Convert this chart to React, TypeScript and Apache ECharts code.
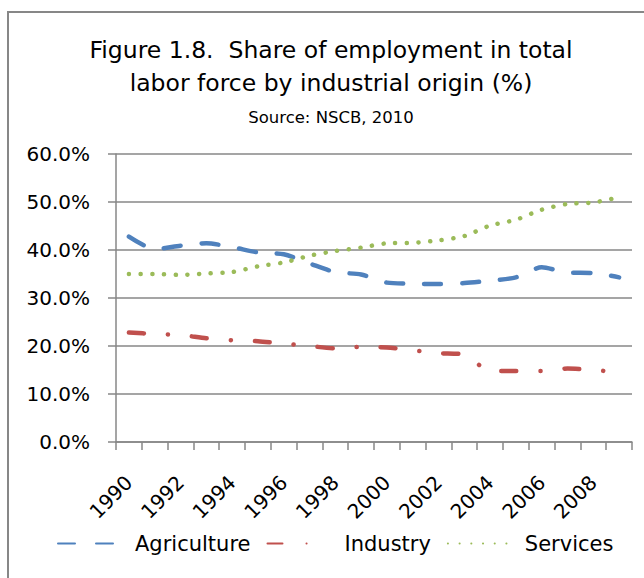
import React, { useEffect, useRef } from "react";
import * as echarts from "echarts";

const years = ["1990","1991","1992","1993","1994","1995","1996","1997","1998","1999","2000","2001","2002","2003","2004","2005","2006","2007","2008","2009"];
const agriculture = [42.8, 40.2, 40.9, 41.4, 40.6, 39.5, 39.1, 37.2, 35.4, 34.9, 33.2, 33.0, 32.9, 33.1, 33.6, 34.3, 36.4, 35.3, 35.2, 34.3];
const industry = [22.8, 22.5, 22.3, 21.6, 21.2, 21.0, 20.5, 20.0, 19.5, 19.8, 19.7, 19.1, 18.5, 18.2, 14.8, 14.8, 14.8, 15.3, 15.0, 14.5];
const services = [35.0, 35.0, 34.8, 35.1, 35.4, 36.6, 37.4, 38.8, 39.8, 40.5, 41.4, 41.5, 42.0, 42.9, 45.1, 46.3, 48.4, 49.6, 49.9, 51.0];
const yTicks = { min: 0, max: 60, interval: 10 };

const FONT = "DejaVu Sans";
const GRAY = "#878787";

export default function App() {
  const ref = useRef<HTMLDivElement>(null);
  useEffect(() => {
    if (!ref.current) return;
    const chart = echarts.init(ref.current, null, { renderer: "svg" });
    chart.setOption({
      animation: false,
      backgroundColor: "#ffffff",
      title: [
        {
          text: "Figure 1.8.  Share of employment in total\nlabor force by industrial origin (%)",
          left: 331,
          textAlign: "center",
          top: 33,
          padding: 0,
          textStyle: { fontFamily: FONT, fontSize: 23.5, fontWeight: "normal", color: "#000", lineHeight: 33 },
        },
        {
          text: "Source: NSCB, 2010",
          left: 331,
          textAlign: "center",
          top: 107,
          padding: 0,
          textStyle: { fontFamily: FONT, fontSize: 16.5, fontWeight: "normal", color: "#000", lineHeight: 20 },
        },
      ],
      graphic: [
        {
          type: "rect",
          shape: { x: 8, y: 12, width: 700, height: 700 },
          style: { fill: "none", stroke: GRAY, lineWidth: 2 },
          silent: true,
        },
      ],
      grid: { left: 116, right: 12, top: 154, bottom: 136, containLabel: false },
      legend: {
        left: 57,
        top: 533,
        padding: 0,
        itemWidth: 62,
        itemHeight: 14,
        itemGap: 16,
        itemStyle: { color: "rgba(0,0,0,0)", opacity: 0, borderWidth: 0 },
        textStyle: { fontFamily: FONT, fontSize: 21, color: "#000", padding: [0, 0, 0, 10] },
        data: ["Agriculture", "Industry", "Services"],
      },
      xAxis: {
        type: "category",
        data: years,
        boundaryGap: true,
        axisLine: { show: true, lineStyle: { color: GRAY, width: 1.5 } },
        axisTick: { show: true, length: 8, interval: 0, lineStyle: { color: GRAY, width: 1.5 } },
        axisLabel: {
          interval: 1,
          rotate: 45,
          margin: 37,
          fontFamily: FONT,
          fontSize: 20,
          color: "#000",
        },
        splitLine: { show: false },
      },
      yAxis: {
        type: "value",
        min: yTicks.min,
        max: yTicks.max,
        interval: yTicks.interval,
        axisLine: { show: true, lineStyle: { color: GRAY, width: 1.5 } },
        axisTick: { show: true, length: 8, lineStyle: { color: GRAY, width: 1.5 } },
        axisLabel: {
          margin: 26,
          fontFamily: FONT,
          fontSize: 20,
          color: "#000",
          formatter: (v: number) => v.toFixed(1) + "%",
        },
        splitLine: { show: true, lineStyle: { color: GRAY, width: 1.5 } },
      },
      series: [
        {
          name: "Agriculture",
          type: "line",
          data: agriculture,
          smooth: 0.25,
          symbol: "none",
          showSymbol: false,
          color: "#4F81BD",
          lineStyle: { color: "#4F81BD", width: 4.5, type: [17, 21], cap: "round", join: "round" },
        },
        {
          name: "Industry",
          type: "line",
          data: industry,
          smooth: 0.25,
          symbol: "none",
          showSymbol: false,
          color: "#C0504D",
          lineStyle: { color: "#C0504D", width: 4.5, type: [15, 24, 0.1, 24], cap: "round", join: "round" },
        },
        {
          name: "Services",
          type: "line",
          data: services,
          smooth: 0.25,
          symbol: "none",
          showSymbol: false,
          color: "#9BBB59",
          lineStyle: { color: "#9BBB59", width: 4.5, type: [0.1, 11.6], cap: "round", join: "round" },
        },
      ],
    });
    return () => chart.dispose();
  }, []);
  return (
    <div
      ref={ref}
      style={{ position: "fixed", left: 0, top: 0, width: 644, height: 578, background: "#fff" }}
    />
  );
}
